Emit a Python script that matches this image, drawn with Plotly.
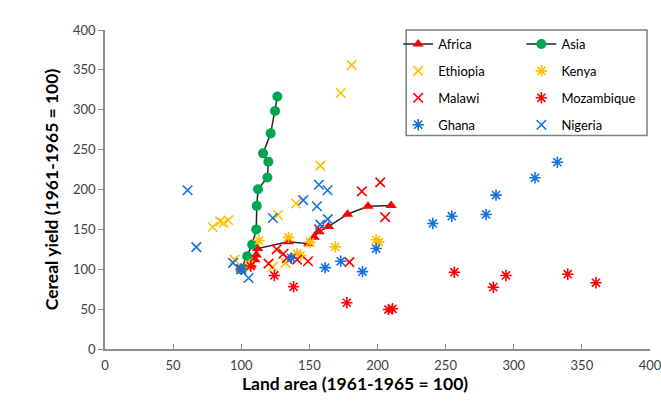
import plotly.graph_objects as go

# ---- data ----
africa_x = [100, 107, 110, 111, 112, 134.5, 149.5, 153.5, 156.5, 164, 178, 193, 210]
africa_y = [100, 104, 112, 118, 126, 134.5, 132, 140, 147, 153.5, 169, 179, 180]

asia_x = [100, 104.3, 108, 111, 111.4, 112.3, 119.2, 119.9, 116, 121.6, 124.8, 126.5]
asia_y = [100, 116.2, 131, 150, 179.5, 200.4, 215, 234.8, 245.3, 270.4, 298.5, 316.6]

ethiopia_x = [100, 79, 84.5, 87, 90.5, 95, 123, 132.5, 126.9, 140.2, 158, 173, 181]
ethiopia_y = [100, 153, 160, 158, 161.5, 112, 103, 108, 168, 182.5, 230, 321, 356]

kenya_x = [100, 106, 113, 134.7, 141, 143.5, 150.5, 168.9, 199, 201]
kenya_y = [100, 106, 136, 140, 119.5, 117.5, 134, 128, 137, 134]

malawi_x = [100, 120, 126, 131, 133.5, 141, 149, 157.2, 179.4, 188.5, 202, 205.6]
malawi_y = [100, 107, 125, 119.4, 114, 112, 110, 150, 109, 197.7, 209, 165.3]

mozambique_x = [100, 107, 124.3, 138.4, 177.5, 208, 211, 256.4, 285, 294.3, 339.6, 360.3]
mozambique_y = [100, 104, 92.2, 78, 58, 49.5, 50.4, 96.3, 77.5, 92.2, 93.8, 83]

ghana_x = [100, 136.7, 161.6, 173, 189, 199, 240.6, 254.5, 279.7, 287, 315.6, 332]
ghana_y = [100, 114, 102, 110, 97, 126, 157.4, 166.5, 168.7, 193, 214.7, 234.2]

nigeria_x = [100, 60.6, 67, 94, 105.4, 123.2, 145.5, 155.5, 157, 163.3, 158, 163.5]
nigeria_y = [100, 199, 127.7, 108, 89, 164.3, 186.6, 179, 206, 199, 156, 162.8]

x_ticks = [0, 50, 100, 150, 200, 250, 300, 350, 400]
y_ticks = [0, 50, 100, 150, 200, 250, 300, 350, 400]

x_title = "Land area (1961-1965 = 100)"
y_title = "Cereal yield (1961-1965 = 100)"

ORANGE = "#FFC000"
RED = "#FF0000"
BLUE = "#1570E0"
GREEN = "#00A651"
FONT = "Lato"

fig = go.Figure()

fig.add_trace(go.Scatter(
    x=africa_x, y=africa_y, name="Africa", mode="lines+markers",
    line=dict(color="#262626", width=1.5),
    marker=dict(symbol="triangle-up", size=10, color=RED),
    legend="legend", legendgroup="a"))
fig.add_trace(go.Scatter(
    x=asia_x, y=asia_y, name="Asia", mode="lines+markers",
    line=dict(color="#262626", width=1.5),
    marker=dict(symbol="circle", size=10, color=GREEN),
    legend="legend2", legendgroup="b"))


def pts(xs, ys, name, color, symbol, leg, grp):
    fig.add_trace(go.Scatter(
        x=xs, y=ys, name=name, mode="markers",
        marker=dict(symbol=symbol, size=9.5, color=color,
                    line=dict(color=color, width=1.6)),
        legend=leg, legendgroup=grp))


pts(ethiopia_x, ethiopia_y, "Ethiopia", ORANGE, "x-thin-open", "legend", "c")
pts(kenya_x, kenya_y, "Kenya", ORANGE, "asterisk-open", "legend2", "d")
pts(malawi_x, malawi_y, "Malawi", RED, "x-thin-open", "legend", "e")
pts(mozambique_x, mozambique_y, "Mozambique", RED, "asterisk-open", "legend2", "f")
pts(ghana_x, ghana_y, "Ghana", BLUE, "asterisk-open", "legend", "g")
pts(nigeria_x, nigeria_y, "Nigeria", BLUE, "x-thin-open", "legend2", "h")

axis_common = dict(
    showgrid=False, zeroline=False, showline=True,
    linecolor="#8C8C8C", linewidth=1.5,
    ticklen=5, tickcolor="#8C8C8C", tickwidth=1,
    tickfont=dict(family=FONT, size=13, color="#404040"),
    ticklabeloverflow="allow",
)

fig.update_xaxes(range=[0, 400], tickvals=x_ticks, ticks="inside",
                 ticklabelstandoff=4, automargin=False, **axis_common)
fig.update_yaxes(
    range=[0, 400], tickvals=y_ticks, ticks="outside",
    title=dict(text="<b>" + y_title + "</b>",
               font=dict(family=FONT, size=17.5, color="#000000"), standoff=10),
    **axis_common)

leg_common = dict(
    bgcolor="rgba(255,255,255,0)", borderwidth=0,
    font=dict(family=FONT, size=13, color="#000000"),
    traceorder="grouped", tracegroupgap=7,
    xanchor="left", yanchor="top", itemwidth=30,
)

fig.update_layout(
    width=661, height=404,
    margin=dict(l=105, r=11, t=30, b=55),
    paper_bgcolor="white", plot_bgcolor="white",
    font=dict(family=FONT),
    showlegend=True,
    legend=dict(x=0.538, y=1.003, **leg_common),
    legend2=dict(x=0.764, y=1.003, **leg_common),
    shapes=[dict(type="rect", xref="paper", yref="paper",
                 x0=0.5526, x1=0.9945, y0=0.669, y1=1.0,
                 line=dict(color="#808080", width=1.5),
                 fillcolor="rgba(0,0,0,0)", layer="below")],
    annotations=[dict(text="<b>" + x_title + "</b>", xref="paper", yref="paper",
                      x=0.459, y=-0.108, xanchor="center", yanchor="middle",
                      showarrow=False,
                      font=dict(family=FONT, size=17.5, color="#000000"))],
)

fig.write_html(
    "out.html",
    config={"displayModeBar": False},
    post_script="document.body.style.margin='0';document.body.style.overflow='hidden';",
)
